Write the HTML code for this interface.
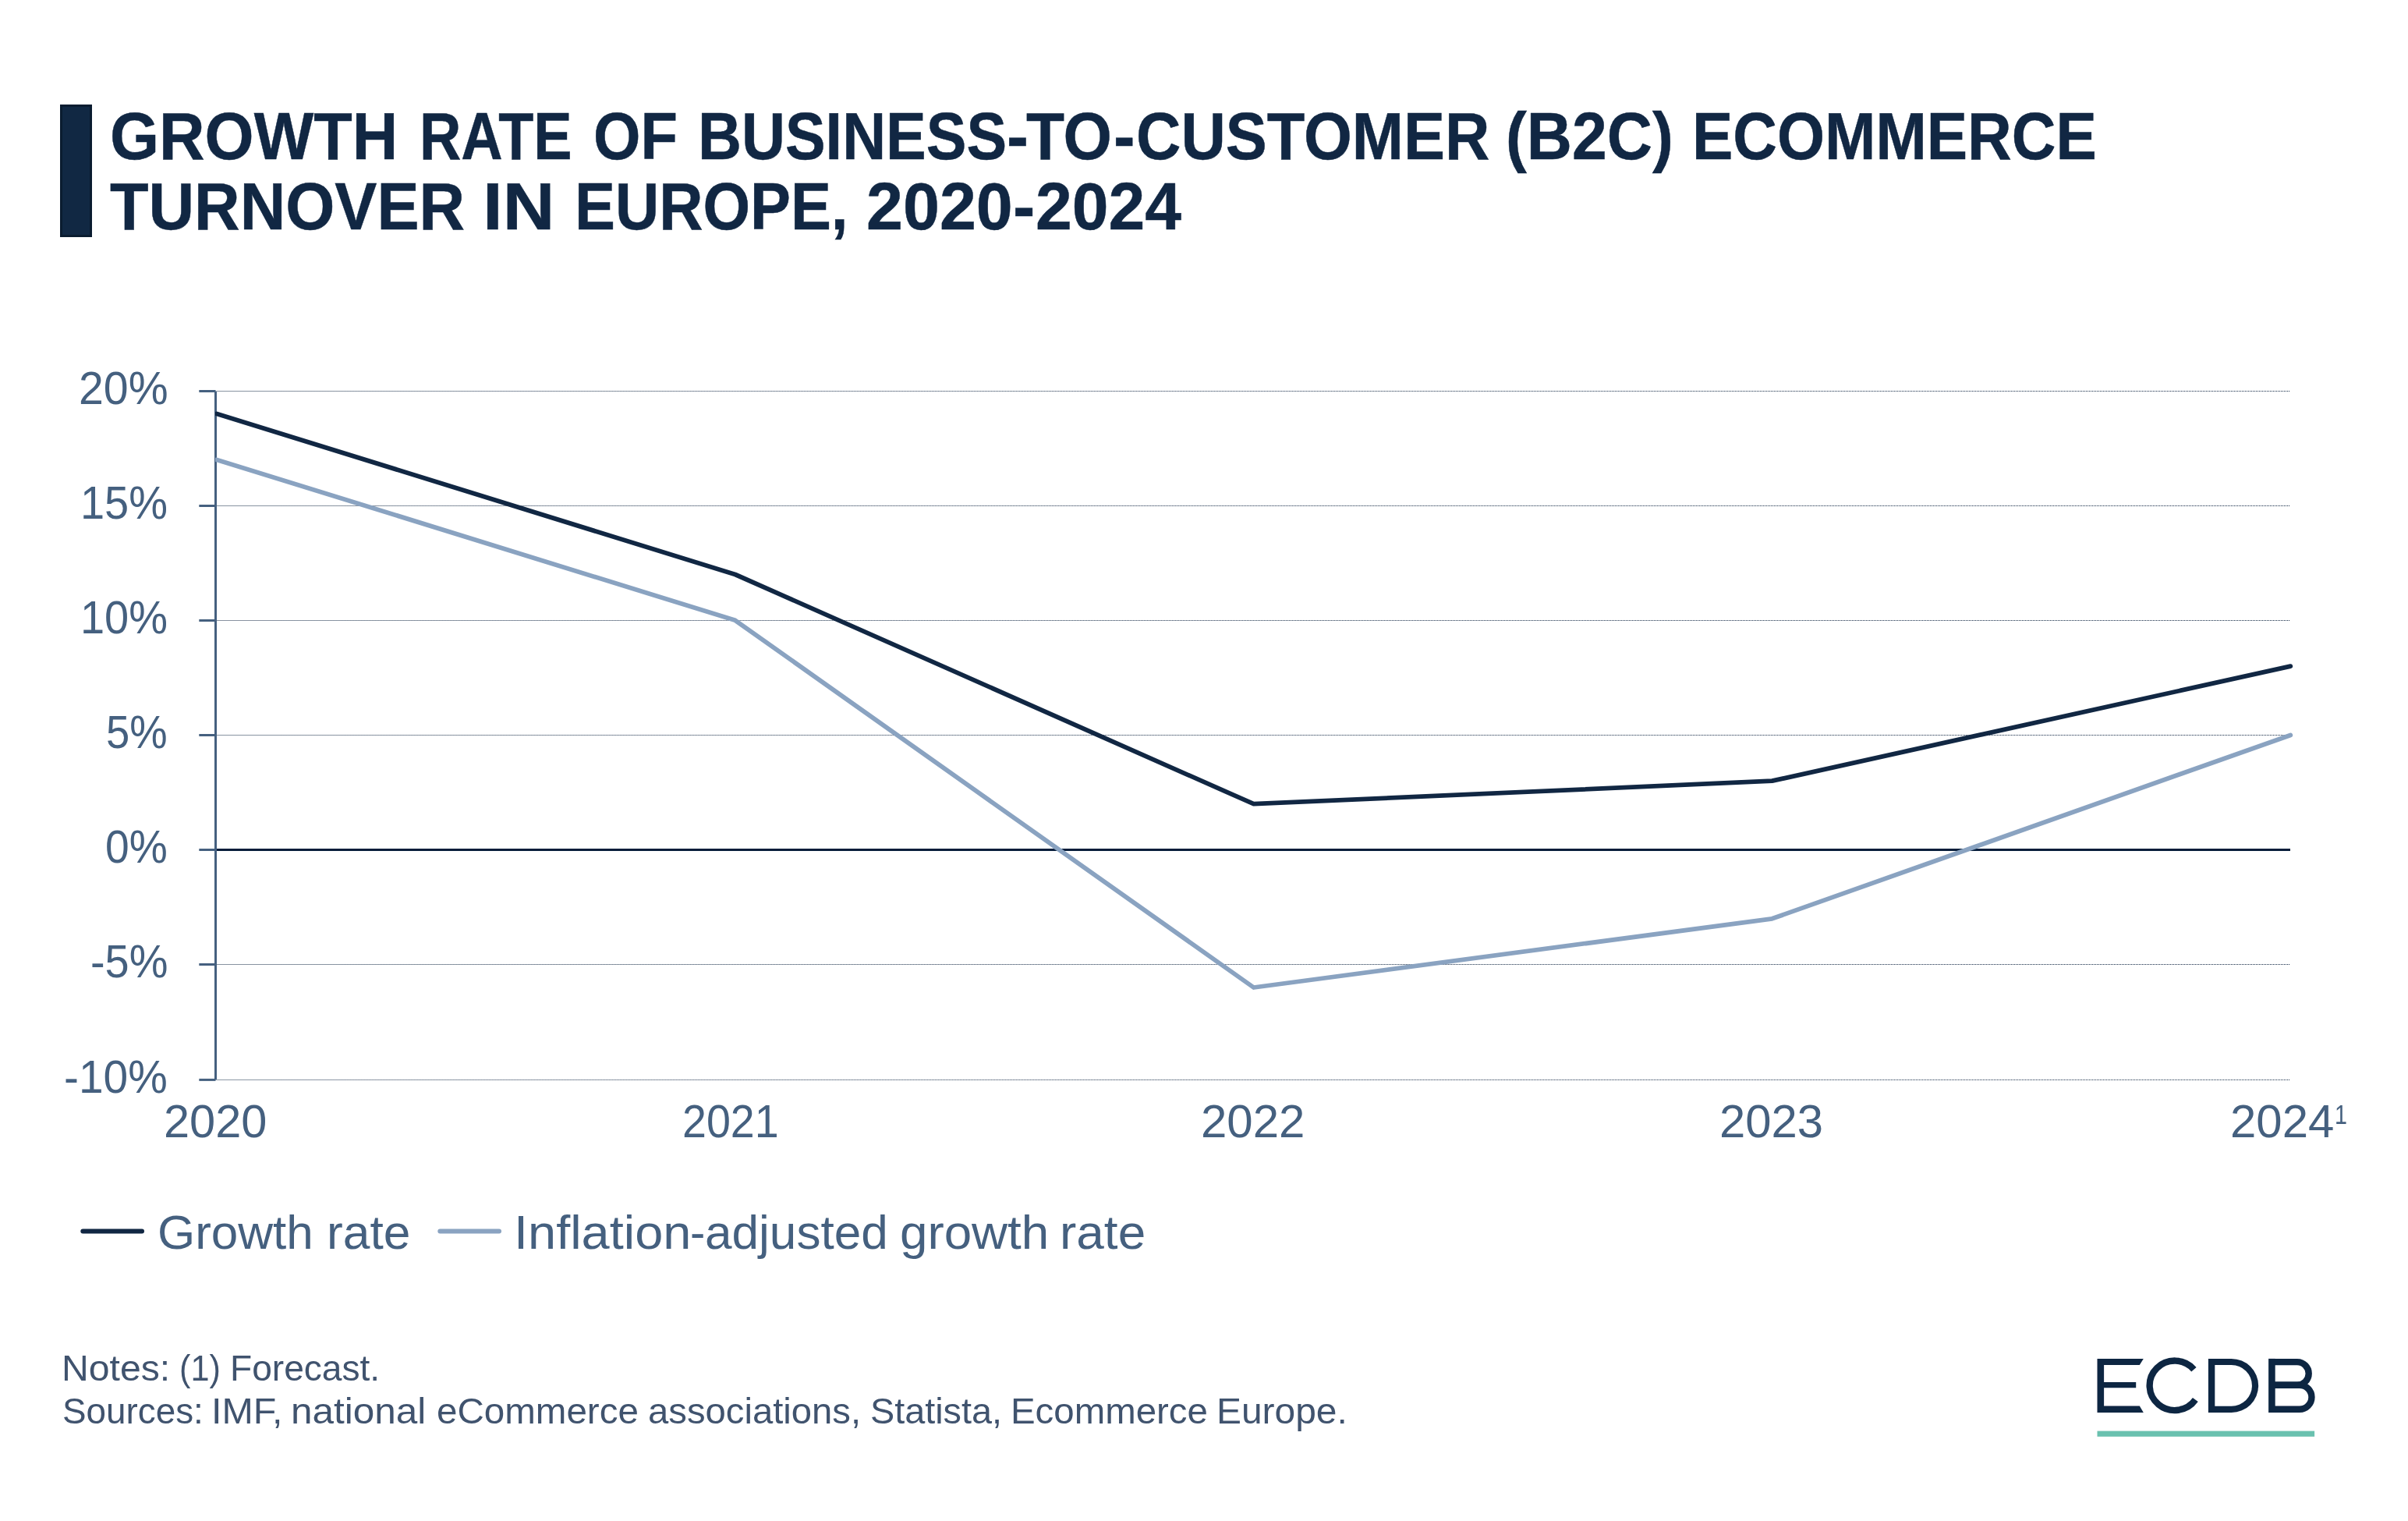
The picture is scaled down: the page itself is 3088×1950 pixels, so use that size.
<!DOCTYPE html>
<html lang="en">
<head>
<meta charset="utf-8">
<title>Growth rate of business-to-customer (B2C) ecommerce turnover in Europe, 2020-2024</title>
<style>
  html, body { margin: 0; padding: 0; background: #ffffff; }
  body { width: 3088px; height: 1950px; position: relative; overflow: hidden;
         font-family: "Liberation Sans", sans-serif; }
  .w { position: absolute; white-space: nowrap; line-height: normal; transform-origin: 0 0; display: block; }
  .title { font-weight: bold; color: #112743; -webkit-text-stroke: 0.5px #112743; }
  .lab   { color: #45607f; }
  .note  { color: #40536e; }
  #bar { position: absolute; left: 77px; top: 134px; width: 35px; height: 164px;
         background: #112843; border: 3px solid #0a1c30; }
  svg { position: absolute; left: 0; top: 0; }
</style>
</head>
<body>
<div id="bar"></div>
<div class="title">
  <span class="w" style="left:141.47px;top:126.10px;font-size:85.3px;transform:scaleX(0.9505)">GROWTH</span>
  <span class="w" style="left:538.38px;top:126.10px;font-size:85.3px;transform:scaleX(0.8658)">RATE</span>
  <span class="w" style="left:761.47px;top:126.10px;font-size:85.3px;transform:scaleX(0.9115)">OF</span>
  <span class="w" style="left:895.16px;top:126.10px;font-size:85.3px;transform:scaleX(0.9085)">BUSINESS</span><span class="w" style="left:1290.98px;top:126.10px;font-size:85.3px;transform:scaleX(0.9842)">-</span><span class="w" style="left:1316.20px;top:126.10px;font-size:85.3px;transform:scaleX(0.9403)">TO</span><span class="w" style="left:1427.92px;top:126.10px;font-size:85.3px;transform:scaleX(0.9666)">-</span><span class="w" style="left:1456.52px;top:126.10px;font-size:85.3px;transform:scaleX(0.9318)">CUSTOMER</span>
  <span class="w" style="left:1931.22px;top:126.10px;font-size:85.3px;transform:scaleX(0.9448)">(B2C)</span>
  <span class="w" style="left:2169.90px;top:126.10px;font-size:85.3px;transform:scaleX(0.9199)">ECOMMERCE</span>
</div>
<div class="title">
  <span class="w" style="left:141.00px;top:216.00px;font-size:85.3px;transform:scaleX(0.9507)">TURNOVER</span>
  <span class="w" style="left:619.23px;top:216.00px;font-size:85.3px;transform:scaleX(1.0814)">IN</span>
  <span class="w" style="left:737.43px;top:216.00px;font-size:85.3px;transform:scaleX(0.9128)">EUROPE,</span>
  <span class="w" style="left:1110.96px;top:216.00px;font-size:85.3px;transform:scaleX(0.9895)">2020</span><span class="w" style="left:1299.24px;top:216.00px;font-size:85.3px;transform:scaleX(0.9974)">-</span><span class="w" style="left:1327.57px;top:216.00px;font-size:85.3px;transform:scaleX(0.9860)">2024</span>
</div>

<svg id="chart" width="3088" height="1950" viewBox="0 0 3088 1950">
  <g stroke="#112743" stroke-width="1" stroke-dasharray="1.00019 1.00019" fill="none">
    <line x1="278.5" y1="501.5" x2="2937" y2="501.5"/>
    <line x1="278.5" y1="648.5" x2="2937" y2="648.5"/>
    <line x1="278.5" y1="795.5" x2="2937" y2="795.5"/>
    <line x1="278.5" y1="942.5" x2="2937" y2="942.5"/>
    <line x1="278.5" y1="1236.5" x2="2937" y2="1236.5"/>
    <line x1="278.5" y1="1384.4" x2="2937" y2="1384.4"/>
  </g>
  <line x1="276.5" y1="1089.5" x2="2937" y2="1089.5" stroke="#061d3a" stroke-width="3"/>
  <g stroke="#45607f" stroke-width="3" fill="none">
    <line x1="276.5" y1="501.5" x2="276.5" y2="1384.4"/>
    <line x1="255.3" y1="501.5" x2="276.5" y2="501.5"/>
    <line x1="255.3" y1="648.5" x2="278" y2="648.5"/>
    <line x1="255.3" y1="795.5" x2="278" y2="795.5"/>
    <line x1="255.3" y1="942.5" x2="278" y2="942.5"/>
    <line x1="255.3" y1="1089.5" x2="278" y2="1089.5"/>
    <line x1="255.3" y1="1236.5" x2="278" y2="1236.5"/>
    <line x1="255.3" y1="1384.4" x2="276.5" y2="1384.4"/>
  </g>
  <clipPath id="plot"><rect x="276" y="400" width="2700" height="1100"/></clipPath>
  <g clip-path="url(#plot)">
  <polyline points="278.0,589.4 942.8,795.3 1607.7,1266.0 2272.5,1177.8 2937.3,942.4" fill="none" stroke="#8aa3c1" stroke-width="5.8" stroke-linejoin="round" stroke-linecap="round"/>
  <polyline points="278.0,530.5 942.8,736.5 1607.7,1030.7 2272.5,1001.2 2937.3,854.1" fill="none" stroke="#112743" stroke-width="5.8" stroke-linejoin="round" stroke-linecap="round"/>
  </g>
  <line x1="106.3" y1="1578.6" x2="182" y2="1578.6" stroke="#112743" stroke-width="6" stroke-linecap="round"/>
  <line x1="564.3" y1="1578.6" x2="640" y2="1578.6" stroke="#8aa3c1" stroke-width="6" stroke-linecap="round"/>
  <filter id="soft" x="-5%" y="-5%" width="110%" height="110%"><feGaussianBlur stdDeviation="0.45"/></filter>
  <g id="logo" filter="url(#soft)">
    <path fill="#112743" d="M2689.5 1741.9 H2748.8 L2743.8 1749.9 H2698.1 V1772 H2739.2 V1779.3 H2698.1 V1802.6 H2743.8 L2748.8 1811 H2689.5 Z"/>
    <path fill="none" stroke="#112743" stroke-width="8.4" d="M2813.42 1755.68 A32.25 31.75 0 1 0 2815.32 1794.51"/>
    <path fill="#112743" fill-rule="evenodd" d="M2831.9 1741.9 H2861.6 A34.55 34.55 0 0 1 2861.6 1811 H2831.9 Z M2840.3 1750.1 H2861.6 A26.35 26.35 0 0 1 2861.6 1802.8 H2840.3 Z"/>
    <g fill="none" stroke="#112743" stroke-width="8.4" stroke-linejoin="miter">
      <path stroke-width="8.6" d="M2913.4 1741.9 V1811"/>
      <path d="M2913.4 1746.1 H2945.9 A14.8 14.8 0 0 1 2945.9 1775.7 H2913.4"/>
      <path d="M2913.4 1775.7 H2948.9 A15.55 15.55 0 0 1 2948.9 1806.8 H2913.4"/>
    </g>
    <rect x="2689.5" y="1834.6" width="278.6" height="7.2" fill="#6bc1af"/>
  </g>
</svg>

<div class="lab">
  <span class="w" style="left:100.52px;top:462.82px;font-size:60px;transform:scaleX(0.9542)">20%</span>
  <span class="w" style="left:103.10px;top:609.82px;font-size:60px;transform:scaleX(0.9323)">15%</span>
  <span class="w" style="left:103.10px;top:756.82px;font-size:60px;transform:scaleX(0.9323)">10%</span>
  <span class="w" style="left:136.40px;top:903.82px;font-size:60px;transform:scaleX(0.9066)">5%</span>
  <span class="w" style="left:135.38px;top:1050.82px;font-size:60px;transform:scaleX(0.9187)">0%</span>
  <span class="w" style="left:115.65px;top:1197.82px;font-size:60px;transform:scaleX(0.9317)">-5%</span>
  <span class="w" style="left:82.42px;top:1345.72px;font-size:60px;transform:scaleX(0.9472)">-10%</span>
</div>
<div class="lab">
  <span class="w" style="left:209.71px;top:1402.72px;font-size:60px;transform:scaleX(0.9925)">2020</span>
  <span class="w" style="left:875.19px;top:1402.72px;font-size:60px;transform:scaleX(0.9264)">2021</span>
  <span class="w" style="left:1540.19px;top:1402.72px;font-size:60px;transform:scaleX(0.9997)">2022</span>
  <span class="w" style="left:2204.70px;top:1402.72px;font-size:60px;transform:scaleX(0.9966)">2023</span>
  <span class="w" style="left:2860.29px;top:1402.72px;font-size:60px;transform:scaleX(0.9995)">2024</span><span class="w" style="left:2994.21px;top:1409.43px;font-size:35px;transform:scaleX(0.8197)">1</span>
</div>
<div class="lab">
  <span class="w" style="left:202.49px;top:1545.01px;font-size:60.5px;transform:scaleX(1.0245)">Growth</span>
  <span class="w" style="left:419.11px;top:1545.01px;font-size:60.5px;transform:scaleX(1.0294)">rate</span>
</div>
<div class="lab">
  <span class="w" style="left:659.23px;top:1545.01px;font-size:60.5px;transform:scaleX(1.0728)">Inflation</span><span class="w" style="left:885.29px;top:1545.01px;font-size:60.5px;transform:scaleX(0.9583)">-</span><span class="w" style="left:904.16px;top:1545.01px;font-size:60.5px;transform:scaleX(1.0262)">adjusted</span>
  <span class="w" style="left:1154.11px;top:1545.01px;font-size:60.5px;transform:scaleX(1.0533)">growth</span>
  <span class="w" style="left:1359.20px;top:1545.01px;font-size:60.5px;transform:scaleX(1.0570)">rate</span>
</div>
<div class="note">
  <span class="w" style="left:79.24px;top:1725.83px;font-size:47px;transform:scaleX(1.0241)">Notes:</span>
  <span class="w" style="left:229.97px;top:1725.83px;font-size:47px;transform:scaleX(0.9203)">(1)</span>
  <span class="w" style="left:295.10px;top:1725.83px;font-size:47px;transform:scaleX(0.9810)">Forecast.</span>
</div>
<div class="note">
  <span class="w" style="left:80.27px;top:1781.23px;font-size:47px;transform:scaleX(0.9746)">Sources:</span>
  <span class="w" style="left:271.22px;top:1781.23px;font-size:47px;transform:scaleX(1.0296)">IMF,</span>
  <span class="w" style="left:373.41px;top:1781.23px;font-size:47px;transform:scaleX(1.0529)">national</span>
  <span class="w" style="left:560.11px;top:1781.23px;font-size:47px;transform:scaleX(1.0116)">eCommerce</span>
  <span class="w" style="left:830.52px;top:1781.23px;font-size:47px;transform:scaleX(1.0052)">associations,</span>
  <span class="w" style="left:1115.94px;top:1781.23px;font-size:47px;transform:scaleX(0.9950)">Statista,</span>
  <span class="w" style="left:1296.40px;top:1781.23px;font-size:47px;transform:scaleX(1.0084)">Ecommerce</span>
  <span class="w" style="left:1560.06px;top:1781.23px;font-size:47px;transform:scaleX(1.0192)">Europe.</span>
</div>
</body>
</html>
